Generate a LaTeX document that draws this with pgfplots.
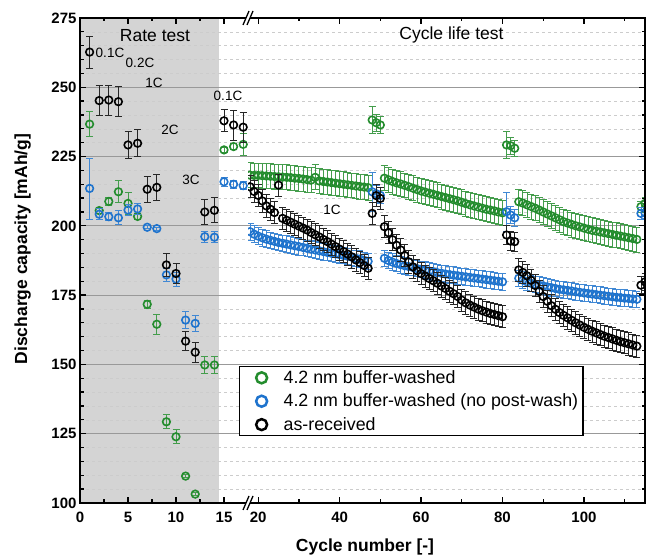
\documentclass[border=0pt]{standalone}
\usepackage{pgfplots}
\pgfplotsset{compat=1.18}
\usepackage{pgfplotstable}
\usepackage{fontspec}
\setmainfont{Liberation Sans}

\definecolor{cgreen}{RGB}{35,140,45}
\definecolor{cblue}{RGB}{30,115,205}
\definecolor{cgray}{RGB}{212,212,212}

% ---------------- rate test (cycles 1-17) ----------------
\pgfplotstableread{
x y e
1 236.7 4.5
2 205.5 1.0
3 208.8 1.5
4 212.3 4.0
5 208.1 4.0
6 203.4 1.0
7 171.7 1.5
8 164.5 3.5
9 129.3 2.5
10 123.9 2.5
11 109.7 0.5
12 103.2 0.5
13 149.8 3.0
14 149.8 3.0
15 227.4 0.8
16 228.6 1.0
17 229.4 4.0
}\greenrate
\pgfplotstableread{
x y e
1 213.5 11
2 204.2 2
3 203.3 1.5
4 202.9 2.5
5 205.7 2
6 206.1 2
7 199.5 0.5
8 199.0 0.5
9 182.3 2.5
10 180.8 2.5
11 166.0 3
12 164.8 3
13 196.1 2
14 195.9 2
15 215.9 1.5
16 215.0 1.5
17 214.5 1.5
}\bluerate
\pgfplotstableread{
x y e
1 262.7 5.8
2 245.2 5.4
3 245.4 5.4
4 244.8 5.4
5 229.2 4.9
6 229.8 4.9
7 213.2 4.6
8 213.9 4.6
9 185.9 4
10 182.8 3.5
11 158.4 3.5
12 154.4 3.5
13 205.0 4.5
14 205.6 4.5
15 237.9 4
16 236.4 5.4
17 235.6 5.4
}\blackrate

% ---------------- cycle life test (cycles 18-115) ----------------
\pgfplotstableread{
x y e
18 218.3 4.5
19 218.2 4.5
20 218.2 4.5
21 218.1 4.5
22 218.0 4.5
23 217.9 4.5
24 217.8 4.5
25 217.7 4.5
26 217.6 4.5
27 217.5 4.5
28 217.4 4.5
29 217.2 4.5
30 217.1 4.5
31 216.9 4.5
32 216.7 4.5
33 216.5 4.5
34 217.5 4.5
35 216.2 4.5
36 216.0 4.5
37 215.8 4.5
38 215.6 4.5
39 215.4 4.5
40 215.2 4.5
41 215.0 4.5
42 214.8 4.5
43 214.6 4.5
44 214.4 4.5
45 214.2 4.5
46 214.0 4.5
47 213.8 4.5
48 238.2 5
49 237.2 3
50 236.4 3
51 217.2 4.5
52 216.6 4.5
53 216.0 4.5
54 215.5 4.5
55 215.1 4.5
56 214.6 4.5
57 214.1 4.5
58 213.6 4.5
59 213.1 4.5
60 212.6 4.5
61 212.2 4.5
62 211.8 4.5
63 211.4 4.5
64 211.0 4.5
65 210.6 4.5
66 210.2 4.5
67 209.8 4.5
68 209.4 4.5
69 209.0 4.5
70 208.5 4.5
71 208.0 4.5
72 207.6 4.5
73 207.2 4.5
74 206.8 4.5
75 206.4 4.5
76 206.0 4.5
77 205.7 4.5
78 205.4 4.5
79 205.0 4.5
80 204.7 4.5
81 229.2 5
82 228.9 3
83 228.0 3
84 208.7 4.5
85 208.2 4.5
86 207.6 4.5
87 207.0 4.5
88 206.4 4.5
89 205.7 4.5
90 205.0 4.5
91 204.3 4.5
92 203.6 4.5
93 202.9 4.5
94 202.2 4.5
95 201.5 4.5
96 201.0 4.5
97 200.5 4.5
98 200.0 4.5
99 199.6 4.5
100 199.2 4.5
101 198.8 4.5
102 198.4 4.5
103 198.1 4.5
104 197.8 4.5
105 197.5 4.5
106 197.2 4.5
107 196.9 4.5
108 196.6 4.5
109 196.3 4.5
110 196.0 4.5
111 195.7 4.5
112 195.4 4.5
113 195.1 4.5
114 206.9 2
115 208.1 2
}\greenlife
\pgfplotstableread{
x y e
18 197.9 3
19 197.0 3
20 196.3 3
21 195.7 3
22 195.2 3
23 194.8 3
24 194.4 3
25 194.0 3
26 193.7 3
27 193.4 3
28 193.1 3
29 192.8 3
30 192.5 3
31 192.2 3
32 191.9 3
33 191.6 3
34 191.3 3
35 191.0 3
36 190.7 3
37 190.4 3
38 190.1 3
39 189.9 3
40 189.6 3
41 189.3 3
42 189.0 3
43 188.7 3
44 188.3 3
45 188.0 3
46 187.6 3
47 187.2 3
48 212.3 7
49 211.6 3
50 211.0 3
51 188.3 3
52 187.5 3
53 186.9 3
54 186.4 3
55 186.0 3
56 185.6 3
57 185.3 3
58 185.0 3
59 184.6 3
60 184.3 3
61 184.0 3
62 183.7 3
63 183.4 3
64 183.1 3
65 182.9 3
66 182.6 3
67 182.4 3
68 182.2 3
69 182.0 3
70 181.8 3
71 181.6 3
72 181.4 3
73 181.2 3
74 181.0 3
75 180.8 3
76 180.6 3
77 180.4 3
78 180.2 3
79 180.0 3
80 179.8 3
81 205.1 7
82 203.9 3
83 202.9 3
84 181.1 3
85 180.4 3
86 179.8 3
87 179.3 3
88 178.9 3
89 178.6 3
90 178.3 3
91 178.0 3
92 177.7 3
93 177.4 3
94 177.1 3
95 176.9 3
96 176.7 3
97 176.5 3
98 176.2 3
99 176.0 3
100 175.8 3
101 175.6 3
102 175.4 3
103 175.2 3
104 175.0 3
105 174.8 3
106 174.6 3
107 174.4 3
108 174.2 3
109 174.1 3
110 173.9 3
111 173.8 3
112 173.6 3
113 173.5 3
114 204.5 2
115 204.7 2
}\bluelife
\pgfplotstableread{
x y e
18 214.1 4
19 212.4 4
20 211.0 4
21 209.0 4
22 207.2 4
23 206.0 4
24 204.8 4
25 214.7 4
26 202.7 4
27 202.0 4
28 201.3 4
29 200.6 4
30 199.9 4
31 199.2 4
32 198.5 4
33 197.6 4
34 196.8 4
35 196.0 4
36 195.1 4
37 194.3 4
38 193.4 4
39 192.5 4
40 191.6 4
41 190.7 4
42 189.8 4
43 188.8 4
44 187.7 4
45 186.7 4
46 185.7 4
47 184.7 4
48 204.5 4
49 210.9 4
50 209.9 4
51 199.7 4
52 197.5 4
53 195.0 4
54 193.0 4
55 191.3 4
56 189.3 4
57 187.0 4
58 185.2 4
59 183.8 4
60 182.8 4
61 181.9 4
62 181.0 4
63 180.2 4
64 179.3 4
65 178.3 4
66 177.4 4
67 176.4 4
68 175.5 4
69 174.5 4
70 173.2 4
71 172.2 4
72 171.4 4
73 170.7 4
74 170.0 4
75 169.4 4
76 168.9 4
77 168.4 4
78 168.0 4
79 167.6 4
80 167.2 4
81 196.7 3.5
82 194.5 3.5
83 194.3 3.5
84 184.1 4
85 183.2 4
86 182.0 4
87 180.4 4
88 178.5 4
89 176.4 4
90 174.5 4
91 172.8 4
92 171.2 4
93 169.9 4
94 168.7 4
95 167.7 4
96 166.8 4
97 165.9 4
98 165.0 4
99 164.2 4
100 163.4 4
101 162.7 4
102 162.0 4
103 161.4 4
104 160.8 4
105 160.2 4
106 159.7 4
107 159.2 4
108 158.7 4
109 158.2 4
110 157.8 4
111 157.4 4
112 157.0 4
113 156.6 4
114 178.6 3
115 179.8 3
}\blacklife

\pgfplotsset{
  common/.style={
    set layers,
    scale only axis, height=485pt,
    ymin=100, ymax=275,
    ytick={100,125,...,275}, minor y tick num=4,
    ymajorgrids, yminorgrids,
    major grid style={gray!80, line width=0.9pt},
    minor grid style={gray!40, dashed, line width=0.6pt},
    axis line style={draw=none},
    tick align=inside,
    major tick length=6pt, minor tick length=3.5pt,
    every tick/.style={black, line width=1.3pt},
    tick label style={font=\fontsize{15}{18}\selectfont\bfseries},
    xticklabel style={yshift=-6pt},
    /pgf/number format/assume math mode=true,
    clip marker paths=true,
  },
  ser/.style={only marks, mark=o, mark size=3.8pt, line width=1.6pt, color=#1,
    error bars/y dir=both, error bars/y explicit,
    error bars/error bar style={#1!85!white, line width=0.8pt},
    error bars/error mark options={rotate=90, #1!85!white, line width=0.8pt, mark size=3.5pt}},
}

\begin{document}
\begin{tikzpicture}[x=1pt,y=1pt]

% left part: rate test
\begin{axis}[common, at={(80pt,53pt)}, anchor=south west, width=168pt,
  xmin=0, xmax=17.5, xtick={0,5,10,15}, minor xtick={2.5,7.5,12.5},
  ytick pos=left]
  \begin{pgfonlayer}{axis background}
    \fill[cgray] (axis cs:0,100) rectangle (axis cs:14.5,275);
  \end{pgfonlayer}
  \addplot[ser=cgreen] table[x=x,y=y,y error=e]{\greenrate};
  \addplot[ser=cblue] table[x=x,y=y,y error=e]{\bluerate};
  \addplot[ser=black] table[x=x,y=y,y error=e]{\blackrate};
\end{axis}

% right part: cycle life test
\begin{axis}[common, at={(248pt,53pt)}, anchor=south west, width=397pt,
  xmin=17.5, xmax=115, xtick={20,40,60,80,100}, minor xtick={30,50,70,90,110},
  ytick pos=right, yticklabels={},
  legend style={at={(-0.0227,0.2825)}, anchor=north west, draw=black,
    line width=1.3pt, fill=white, font=\fontsize{17.8}{21}\selectfont,
    inner xsep=3pt, inner ysep=2pt, row sep=5pt, cells={anchor=west}},
  legend cell align=left,
  legend image code/.code={\path[draw=none,fill=none] (0pt,-6pt) rectangle (39pt,6pt);
    \draw[#1] plot coordinates {(19pt,0pt)};}]
  \addlegendimage{only marks, mark=o, mark size=5.5pt, line width=2.5pt, cgreen}
  \addlegendentry{4.2 nm buffer-washed}
  \addlegendimage{only marks, mark=o, mark size=5.5pt, line width=2.5pt, cblue}
  \addlegendentry{4.2 nm buffer-washed (no post-wash)}
  \addlegendimage{only marks, mark=o, mark size=5.5pt, line width=2.5pt, black}
  \addlegendentry{as-received}
  \addplot[forget plot, ser=cgreen] table[x=x,y=y,y error=e]{\greenlife};
  \addplot[forget plot, ser=cblue] table[x=x,y=y,y error=e]{\bluelife};
  \addplot[forget plot, ser=black] table[x=x,y=y,y error=e]{\blacklife};
\end{axis}

% frame and axis break marks
\draw[line width=1.6pt] (80,53) rectangle (645,538);
\fill[white] (243,46) -- (247,46) -- (253,60) -- (249,60) -- cycle;
\draw[line width=1.3pt] (243,46) -- (249,60) (247,46) -- (253,60);
\fill[white] (243,531) -- (247,531) -- (253,545) -- (249,545) -- cycle;
\draw[line width=1.3pt] (243,531) -- (249,545) (247,531) -- (253,545);

% annotations
\node[font=\fontsize{17.5}{20}\selectfont] at (155,520.3) {Rate test};
\node[font=\fontsize{17.5}{20}\selectfont] at (451.5,521) {Cycle life test};
\begin{scope}[every node/.style={font=\fontsize{13.5}{16}\selectfont}]
\node at (110,502.7) {0.1C};
\node at (140,492.7) {0.2C};
\node at (154,472.7) {1C};
\node at (170,426) {2C};
\node at (191,376) {3C};
\node at (228,460) {0.1C};
\node at (332,346) {1C};
\end{scope}

% axis titles
\node[font=\fontsize{17.5}{20}\selectfont\bfseries, rotate=90, anchor=base] at (27,307) {Discharge capacity [mAh/g]};
\node[font=\fontsize{17.5}{20}\selectfont\bfseries, anchor=base] at (365,4) {Cycle number [-]};

\pgfresetboundingbox
\useasboundingbox (0,0) rectangle (649,556);
\end{tikzpicture}
\end{document}
